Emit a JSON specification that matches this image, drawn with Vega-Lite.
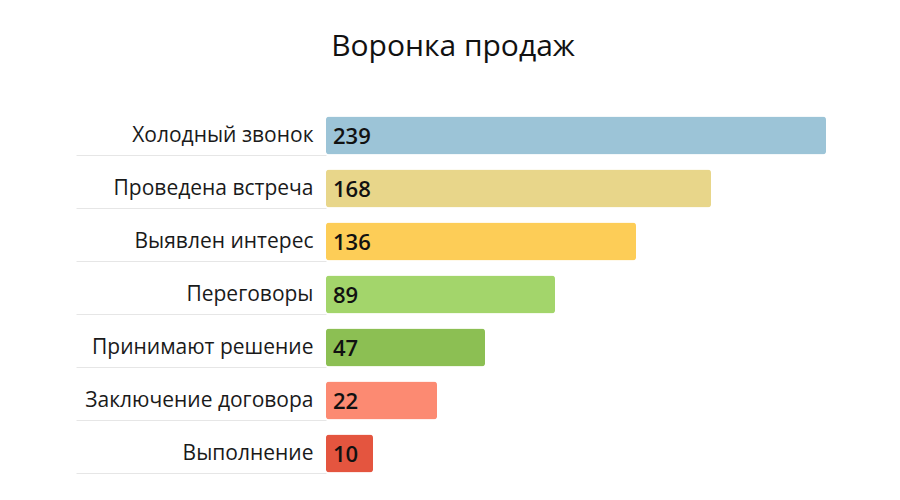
{
  "$schema": "https://vega.github.io/schema/vega-lite/v6.json",
  "autosize": "none",
  "width": 540,
  "height": 371,
  "padding": {"left": 326, "top": 109, "right": 34, "bottom": 20},
  "background": "white",
  "config": {"view": {"stroke": null}, "font": "Open Sans"},
  "title": {
    "text": "Воронка продаж",
    "font": "Open Sans",
    "fontSize": 30,
    "fontWeight": "normal",
    "color": "#111111",
    "anchor": "middle",
    "dx": -143,
    "offset": 47
  },
  "data": {
    "values": [
      {"stage": "Холодный звонок", "value": 239},
      {"stage": "Проведена встреча", "value": 168},
      {"stage": "Выявлен интерес", "value": 136},
      {"stage": "Переговоры", "value": 89},
      {"stage": "Принимают решение", "value": 47},
      {"stage": "Заключение договора", "value": 22},
      {"stage": "Выполнение", "value": 10}
    ]
  },
  "encoding": {
    "y": {
      "field": "stage",
      "type": "nominal",
      "sort": null,
      "scale": {"paddingInner": 0, "paddingOuter": 0},
      "axis": {
        "title": null,
        "domain": false,
        "ticks": true,
        "tickSize": 250,
        "tickColor": "#e6e6e6",
        "tickWidth": 1,
        "tickOffset": 19.5,
        "labelOffset": -19.5,
        "labelPadding": -237,
        "labelFont": "Open Sans",
        "labelFontSize": 21,
        "labelColor": "#1a1a1a",
        "labelAlign": "right",
        "labelBaseline": "middle",
        "labelLimit": 400
      }
    }
  },
  "layer": [
    {
      "mark": {"type": "bar", "height": 38, "cornerRadius": 3},
      "encoding": {
        "x": {
          "field": "value",
          "type": "quantitative",
          "scale": {
            "domain": [0, 10, 22, 47, 89, 136, 168, 239],
            "range": [0, 47, 111, 159, 229, 310, 385, 500],
            "nice": false,
            "zero": false
          },
          "axis": null
        },
        "color": {
          "field": "stage",
          "type": "nominal",
          "sort": null,
          "scale": {
            "domain": ["Холодный звонок", "Проведена встреча", "Выявлен интерес", "Переговоры", "Принимают решение", "Заключение договора", "Выполнение"],
            "range": ["#9cc4d7", "#e8d68a", "#fdcd57", "#a3d56b", "#8cbf53", "#fc8a72", "#e4553f"]
          },
          "legend": null
        }
      }
    },
    {
      "mark": {"type": "text", "align": "left", "baseline": "middle", "dx": 7, "dy": 1, "fontSize": 22, "font": "Open Sans", "fontWeight": 600, "color": "#111111"},
      "encoding": {
        "x": {"datum": 0, "type": "quantitative"},
        "text": {"field": "value", "type": "quantitative"}
      }
    }
  ]
}
